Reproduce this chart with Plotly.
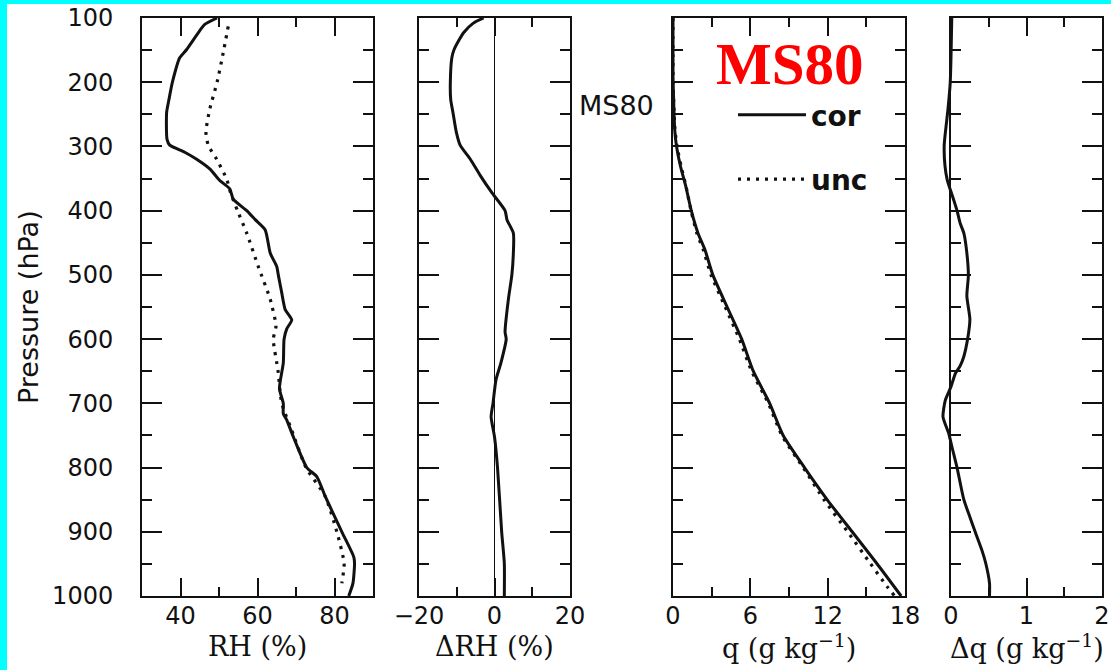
import plotly.graph_objects as go

# ---------------- data ----------------
rh_cor_p = [100, 110, 123, 149, 162, 200, 227, 247, 289, 298, 309, 320, 335, 353, 366, 382,
            400, 414, 430, 466, 487, 500, 528, 554, 570, 584, 600, 637, 677, 700, 716, 726,
            752, 800, 814, 845, 900, 939, 949, 980, 1000]
rh_cor = [49.5, 46.3, 44.6, 41.6, 39.8, 37.9, 37.0, 36.4, 36.5, 37.2, 41.1, 44.2, 47.6, 50.2, 52.8, 53.7,
          57.2, 59.4, 62.0, 63.3, 65.0, 65.4, 66.3, 67.2, 68.9, 67.6, 66.9, 66.7, 65.7, 66.7, 66.7, 67.6,
          69.3, 72.8, 75.4, 77.6, 81.9, 85.0, 85.2, 84.8, 83.7]

rh_unc_p = [113, 154, 200, 242, 278, 298, 320, 351, 372, 400, 435, 487, 538, 580, 600, 648,
            700, 742, 800, 845, 900, 949, 980]
rh_unc = [52.4, 51.1, 49.5, 47.6, 46.6, 47.2, 49.4, 52.0, 53.0, 54.8, 57.2, 60.2, 63.3, 64.8, 64.1, 65.3,
          66.3, 68.9, 72.6, 77.6, 80.6, 82.5, 81.9]

drh_p = [100, 108, 123, 149, 162, 200, 227, 247, 278, 298, 320, 345, 372, 400, 414, 435,
         466, 500, 537, 589, 600, 637, 663, 700, 721, 752, 800, 900, 949, 1000]
drh = [-2.9, -5.6, -8.2, -10.7, -11.3, -11.7, -11.6, -11.0, -10.1, -9.1, -6.4, -3.8, -0.7, 2.8, 3.3, 5.0,
       5.0, 4.6, 3.7, 2.8, 3.1, 1.7, 0.4, -0.4, -0.9, 0.0, 0.8, 1.9, 2.6, 2.6]

q_cor_p = [100, 190, 227, 273, 298, 330, 361, 400, 435, 461, 500, 550, 600, 650, 700, 750,
           800, 851, 900, 949, 1000]
q_cor = [0.0, 0.0, 0.05, 0.13, 0.26, 0.57, 0.98, 1.42, 1.94, 2.48, 3.09, 4.2, 5.33, 6.23, 7.5, 8.55,
         10.2, 12.0, 13.9, 15.8, 17.7]

q_unc_p = [100, 190, 227, 273, 298, 330, 361, 400, 435, 461, 500, 550, 600, 650, 700, 750,
           800, 851, 900, 949, 985, 1000]
q_unc = [0.0, 0.0, 0.05, 0.15, 0.30, 0.62, 1.0, 1.4, 1.85, 2.35, 2.95, 4.05, 5.15, 6.1, 7.4, 8.45,
         10.1, 11.75, 13.55, 15.3, 16.6, 17.2]

dq_p = [100, 200, 242, 298, 330, 352, 383, 400, 419, 435, 456, 500, 533, 569, 600, 627,
        642, 653, 674, 695, 721, 747, 768, 800, 850, 877, 900, 929, 949, 980, 1000]
dq = [0.01, -0.01, -0.04, -0.09, -0.08, -0.05, 0.035, 0.08, 0.12, 0.17, 0.20, 0.23, 0.21, 0.25, 0.22, 0.17,
      0.12, 0.06, 0.0, -0.075, -0.106, -0.03, 0.013, 0.08, 0.17, 0.25, 0.32, 0.41, 0.46, 0.51, 0.51]

p_ticks = [100, 200, 300, 400, 500, 600, 700, 800, 900, 1000]
x_titles = ["RH (%)", "ΔRH (%)", "q (g kg<sup>−1</sup>)", "Δq (g kg<sup>−1</sup>)"]
x_ranges = [[30, 90], [-20, 20], [0, 18], [0, 2]]
x_major = [[40, 60, 80], [-20, 0, 20], [0, 6, 12, 18], [0, 1, 2]]
x_minor = [10, 10, 3, 0.5]
dq_data_range = [-0.16, 2]   # lets the Δq curve run slightly past the left frame, as in the reference

# ---------------- layout geometry ----------------
W, H = 1111, 670
x_dom_px = [(142, 373), (419, 570), (673, 905), (951, 1102)]
y_top, y_bot = 18, 596
y_dom = [1 - y_bot / H, 1 - y_top / H]

BLACK = "#111111"
SANS = "DejaVu Sans"
SERIF = "DejaVu Serif"

fig = go.Figure()

solid = dict(color=BLACK, width=3, shape="spline", smoothing=0.6)
dotted = dict(color=BLACK, width=3.2, dash="3px,6px", shape="spline", smoothing=0.6)

fig.add_trace(go.Scatter(x=rh_unc, y=rh_unc_p, mode="lines", line=dotted, xaxis="x", yaxis="y",
                         showlegend=False))
fig.add_trace(go.Scatter(x=rh_cor, y=rh_cor_p, mode="lines", line=solid, xaxis="x", yaxis="y",
                         showlegend=False))
fig.add_trace(go.Scatter(x=drh, y=drh_p, mode="lines", line=solid, xaxis="x2", yaxis="y2",
                         showlegend=False))
fig.add_trace(go.Scatter(x=q_cor, y=q_cor_p, mode="lines", line=solid, xaxis="x3", yaxis="y3",
                         name="cor", showlegend=True, legendgroup="a"))
fig.add_trace(go.Scatter(x=q_unc, y=q_unc_p, mode="lines", line=dotted, xaxis="x3", yaxis="y3",
                         name="unc", showlegend=True, legendgroup="b"))
fig.add_trace(go.Scatter(x=dq, y=dq_p, mode="lines", line=solid, xaxis="x4", yaxis="y4",
                         showlegend=False))
# empty trace so that the Δq frame subplot (x5/y5) is drawn
fig.add_trace(go.Scatter(x=[], y=[], mode="lines", xaxis="x5", yaxis="y5", showlegend=False,
                         hoverinfo="skip"))

layout = dict(
    template="none",
    width=W, height=H,
    margin=dict(l=0, r=0, t=0, b=0, autoexpand=False),
    paper_bgcolor="white", plot_bgcolor="rgba(0,0,0,0)",
    font=dict(family=SANS, color=BLACK, size=24),
    legend=dict(x=733 / W, y=1 - 90 / H, xanchor="left", yanchor="top",
                bgcolor="rgba(0,0,0,0)", font=dict(family=SANS, size=28, weight="bold", color=BLACK),
                itemwidth=68, tracegroupgap=25, traceorder="grouped"),
)


def frame_x(dom, rng, anchor, major, minor, zl):
    return dict(
        domain=dom, range=rng, anchor=anchor, automargin=False,
        tickmode="array", tickvals=major,
        ticks="inside", ticklen=18, tickwidth=2, tickcolor=BLACK,
        minor=dict(dtick=minor, ticks="inside", ticklen=9, tickwidth=2, tickcolor=BLACK,
                   showgrid=False),
        showline=True, linewidth=2, linecolor=BLACK, mirror="ticks",
        showgrid=False, zeroline=zl, zerolinecolor=BLACK, zerolinewidth=1.2,
        tickfont=dict(family=SANS, size=24, color=BLACK), ticklabelstandoff=-3,
        fixedrange=True,
    )


def frame_y(anchor, labels):
    return dict(
        domain=y_dom, range=[1000, 100], anchor=anchor, automargin=False,
        tickmode="array", tickvals=p_ticks,
        ticks="inside", ticklen=20, tickwidth=2, tickcolor=BLACK,
        minor=dict(dtick=50, ticks="inside", ticklen=10, tickwidth=2, tickcolor=BLACK, showgrid=False),
        showline=True, linewidth=2, linecolor=BLACK, mirror="ticks",
        showgrid=False, zeroline=False,
        showticklabels=labels,
        tickfont=dict(family=SANS, size=24, color=BLACK), ticklabelstandoff=22,
        fixedrange=True,
    )


for i in range(3):
    xs = "" if i == 0 else str(i + 1)
    x0, x1 = x_dom_px[i]
    layout["xaxis" + xs] = frame_x([x0 / W, x1 / W], x_ranges[i], "y" + xs, x_major[i], x_minor[i],
                                   i == 1)
    layout["yaxis" + xs] = frame_y("x" + xs, i == 0)

# panel 4: hidden data axes (slightly wider to the left, same scale) + visible frame axes
x0, x1 = x_dom_px[3]
ppu = (x1 - x0) / (x_ranges[3][1] - x_ranges[3][0])
x0_data = x1 - ppu * (dq_data_range[1] - dq_data_range[0])
layout["xaxis4"] = dict(domain=[x0_data / W, x1 / W], range=dq_data_range, anchor="y4", visible=False,
                        automargin=False, fixedrange=True)
layout["yaxis4"] = dict(domain=y_dom, range=[1000, 100], anchor="x4", visible=False,
                        automargin=False, fixedrange=True)
layout["xaxis5"] = frame_x([x0 / W, x1 / W], x_ranges[3], "y5", x_major[3], x_minor[3], False)
layout["yaxis5"] = frame_y("x5", False)

annotations = []
for i in range(4):
    x0, x1 = x_dom_px[i]
    annotations.append(dict(text=x_titles[i], x=(x0 + x1) / 2 / W, y=1 - 646 / H, xref="paper",
                            yref="paper", xanchor="center", yanchor="middle", showarrow=False,
                            font=dict(family=SERIF, size=27, color=BLACK)))
annotations.append(dict(text="Pressure (hPa)", x=28 / W, y=1 - 307 / H, xref="paper", yref="paper",
                        textangle=-90, xanchor="center", yanchor="middle", showarrow=False,
                        font=dict(family=SANS, size=27, color=BLACK)))
annotations.append(dict(text="MS80", x=616 / W, y=1 - 106 / H, xref="paper", yref="paper",
                        xanchor="center", yanchor="middle", showarrow=False,
                        font=dict(family=SANS, size=27, color=BLACK)))
annotations.append(dict(text="<b>MS80</b>", x=790 / W, y=1 - 64 / H, xref="paper", yref="paper",
                        xanchor="center", yanchor="middle", showarrow=False,
                        font=dict(family="Liberation Serif", size=59, color="#ff0000")))
layout["annotations"] = annotations

layout["shapes"] = [
    dict(type="rect", xref="paper", yref="paper", x0=0, x1=7 / W, y0=0, y1=1,
         fillcolor="#00ffff", line=dict(width=0), layer="above"),
    dict(type="rect", xref="paper", yref="paper", x0=0, x1=1, y0=1 - 4 / H, y1=1,
         fillcolor="#00ffff", line=dict(width=0), layer="above"),
]

fig.update_layout(**layout)
fig.write_html("out.html", config={"displayModeBar": False},
               post_script="document.body.style.margin='0';document.body.style.padding='0';")
